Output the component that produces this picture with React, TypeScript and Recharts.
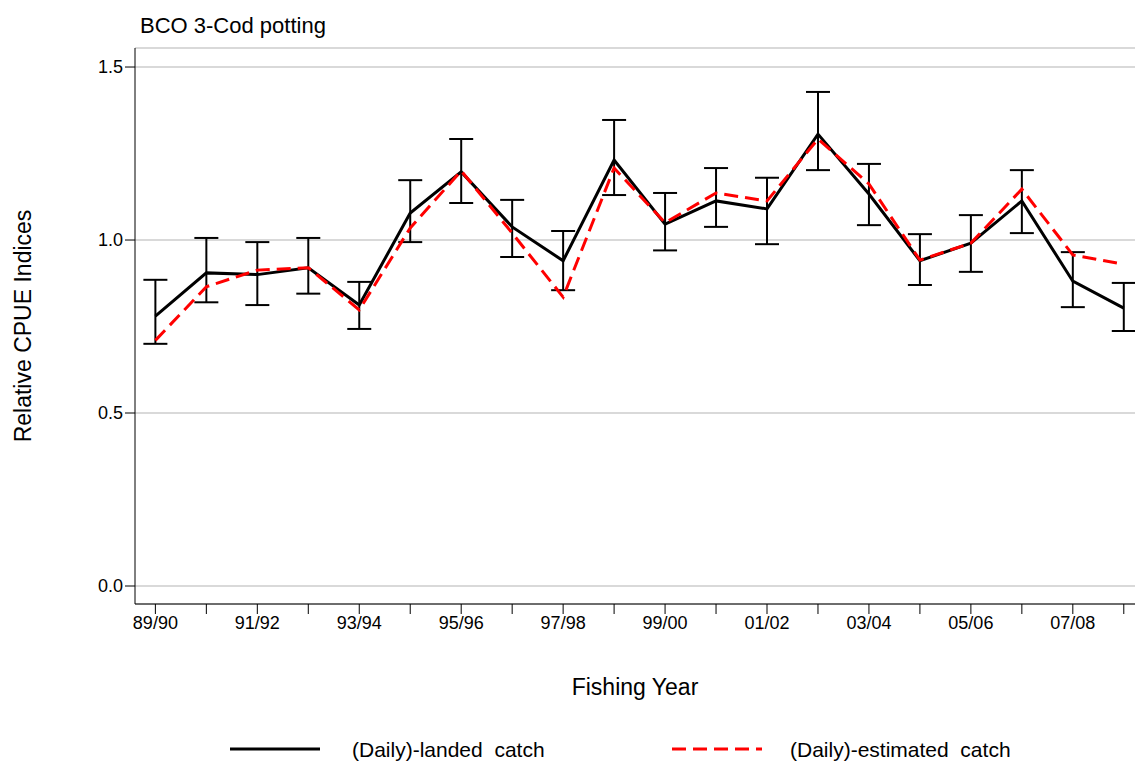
import React from "react";
import { LineChart, Line, XAxis, YAxis, CartesianGrid, ErrorBar } from "recharts";

const years = ["89/90", "90/91", "91/92", "92/93", "93/94", "94/95", "95/96", "96/97", "97/98", "98/99",
  "99/00", "00/01", "01/02", "02/03", "03/04", "04/05", "05/06", "06/07", "07/08", "08/09"];
const landed = [0.78, 0.905, 0.9, 0.92, 0.812, 1.078, 1.197, 1.038, 0.94, 1.231,
  1.046, 1.113, 1.09, 1.306, 1.133, 0.94, 0.991, 1.113, 0.881, 0.803];
const estimated = [0.71, 0.865, 0.913, 0.92, 0.798, 1.035, 1.2, 1.02, 0.835, 1.208,
  1.05, 1.136, 1.113, 1.292, 1.162, 0.942, 0.991, 1.147, 0.957, 0.93];
const lower = [0.7, 0.82, 0.812, 0.845, 0.743, 0.994, 1.107, 0.951, 0.855, 1.13,
  0.97, 1.038, 0.988, 1.202, 1.043, 0.87, 0.908, 1.02, 0.806, 0.737];
const upper = [0.885, 1.006, 0.994, 1.006, 0.879, 1.173, 1.292, 1.116, 1.026, 1.347,
  1.136, 1.208, 1.18, 1.428, 1.22, 1.017, 1.072, 1.202, 0.965, 0.876];
const yTicks = [0, 0.5, 1.0, 1.5];

const data = years.map((y, i) => ({
  x: i,
  landed: landed[i],
  estimated: estimated[i],
  err: [landed[i] - lower[i], upper[i] - landed[i]],
}));

const font = "'Liberation Sans', Arial, sans-serif";

export default function App() {
  return (
    <div style={{ position: "absolute", left: 0, top: 0, width: 1135, height: 762, background: "#fff", fontFamily: font }}>
      <div style={{ position: "absolute", left: 140, top: 13, fontSize: 22, color: "#000" }}>BCO 3-Cod potting</div>
      <LineChart width={1135} height={762} data={data} margin={{ top: 48, right: 0, bottom: 58, left: 0 }}>
        <CartesianGrid horizontal vertical={false} stroke="#d9d9d9" strokeWidth={2} />
        <XAxis
          dataKey="x"
          type="number"
          domain={[-0.4, 19.22]}
          ticks={years.map((_, i) => i)}
          tickFormatter={(v: number) => (v % 2 === 0 ? years[v] : "")}
          stroke="#000"
          tick={{ fill: "#000", fontSize: 18, fontFamily: font }}
          tickSize={10}
          height={100}
          label={{ value: "Fishing Year", position: "insideTop", dy: 70, fill: "#000", fontSize: 23, fontFamily: font }}
          allowDataOverflow
        />
        <YAxis
          type="number"
          domain={[-0.052, 1.555]}
          ticks={yTicks}
          tickFormatter={(v: number) => v.toFixed(1)}
          stroke="#000"
          tick={{ fill: "#000", fontSize: 18, fontFamily: font }}
          tickSize={10}
          width={135}
          allowDataOverflow
          label={{ value: "Relative CPUE Indices", angle: -90, position: "insideLeft", dx: 18, fill: "#000", fontSize: 23, fontFamily: font, style: { textAnchor: "middle" } }}
        />
        <Line dataKey="landed" stroke="#000" strokeWidth={3} dot={false} isAnimationActive={false}>
          <ErrorBar dataKey="err" stroke="#000" strokeWidth={2} width={12} direction="y" />
        </Line>
        <Line dataKey="estimated" stroke="#ff0000" strokeWidth={3} strokeDasharray="14 7" dot={false} isAnimationActive={false} />
      </LineChart>
      <svg style={{ position: "absolute", left: 0, top: 735 }} width={1135} height={27}>
        <line x1={230} x2={320} y1={14} y2={14} stroke="#000" strokeWidth={3} />
        <text x={352} y={22} fontSize={21} fontFamily={font} fill="#000" style={{ whiteSpace: "pre" }}>(Daily)-landed  catch</text>
        <line x1={672} x2={762} y1={14} y2={14} stroke="#ff0000" strokeWidth={3} strokeDasharray="14 7" />
        <text x={790} y={22} fontSize={21} fontFamily={font} fill="#000" style={{ whiteSpace: "pre" }}>(Daily)-estimated  catch</text>
      </svg>
    </div>
  );
}
